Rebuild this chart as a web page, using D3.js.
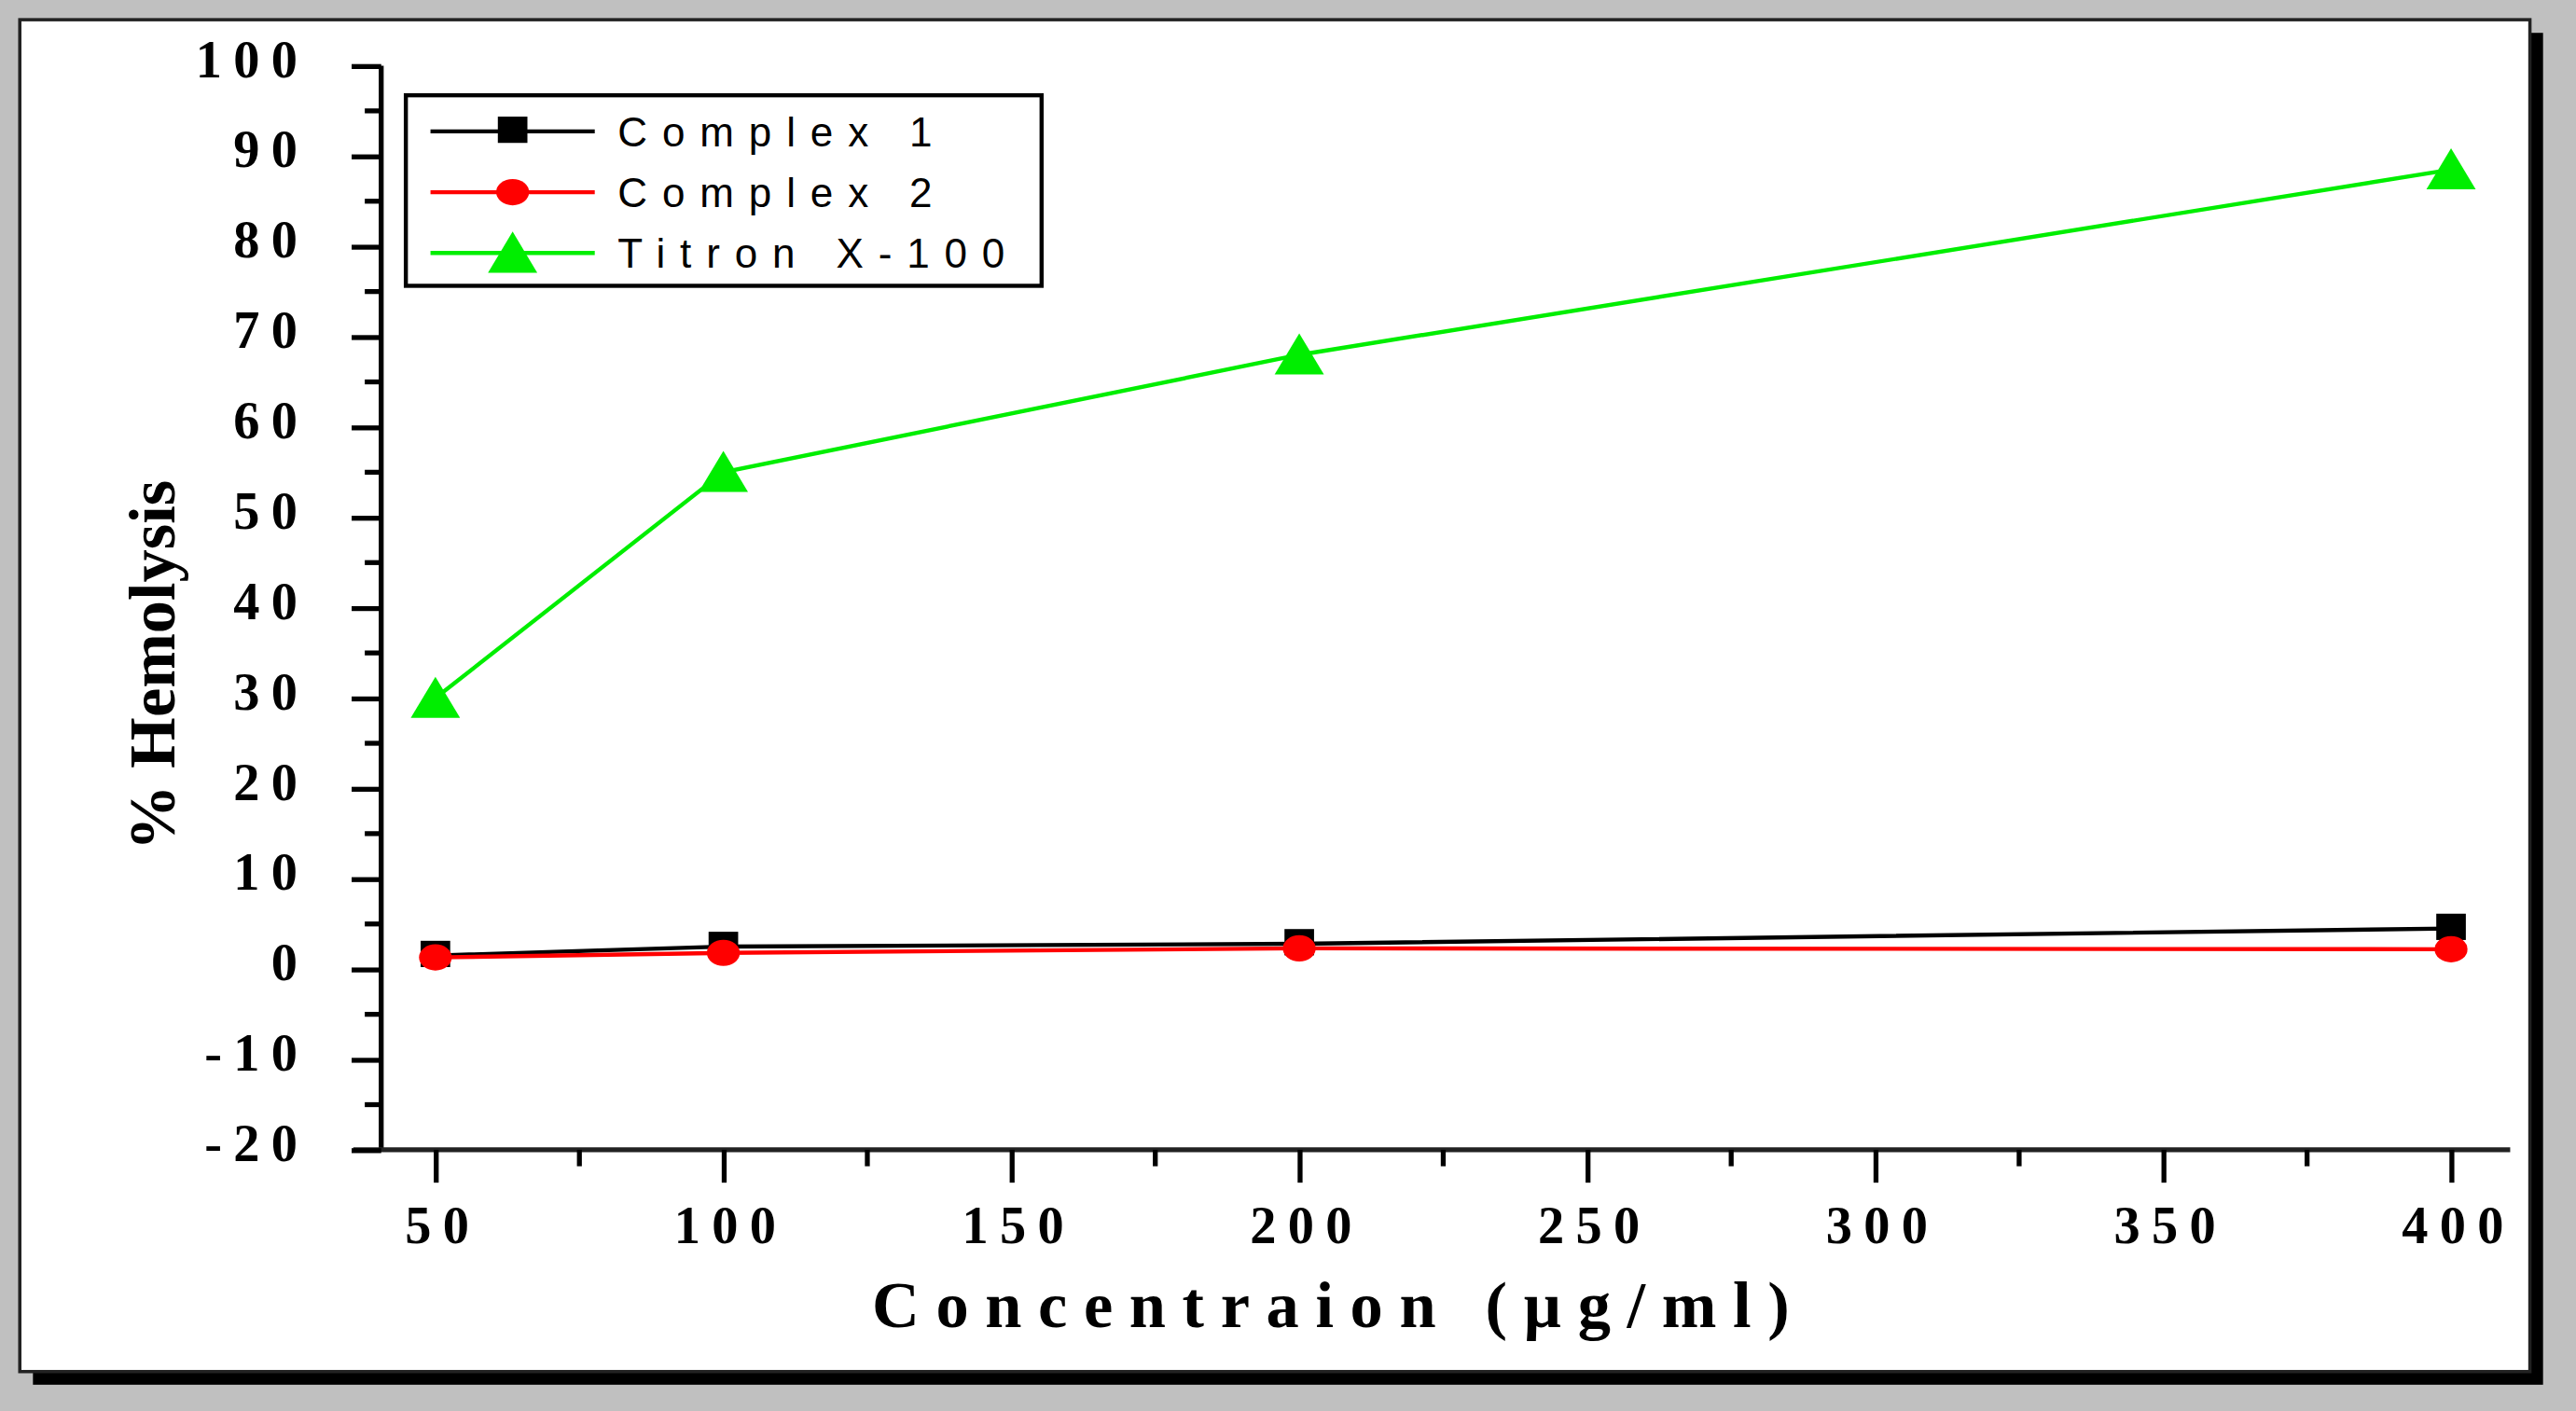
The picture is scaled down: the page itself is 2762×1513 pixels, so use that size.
<!DOCTYPE html>
<html>
<head>
<meta charset="utf-8">
<script src="https://cdn.jsdelivr.net/npm/d3@7"></script>
<style>
  body { margin: 0; background: #c0c0c0; }
  .tick text { font-family: "Liberation Serif", serif; font-weight: bold; font-size: 32px; letter-spacing: 7px; }
  .legend text { font-family: "Liberation Sans Narrow", "Liberation Sans", sans-serif; font-size: 25px; letter-spacing: 9px; }
</style>
</head>
<body>
<svg id="chart"></svg>
<script>
"use strict";
const concentrations = [50, 100, 200, 400];
const complex1 = [1.5, 2.5, 2.8, 4.5];
const complex2 = [1.3, 1.8, 2.3, 2.2];
const titron = [30, 55, 68, 88.5];
const seriesNames = ["Complex 1", "Complex 2", "Titron X-100"];
const seriesColors = ["#000000", "#ff0000", "#00ee00"];
const xTicks = [50, 100, 150, 200, 250, 300, 350, 400];
const yTicks = [-20, -10, 0, 10, 20, 30, 40, 50, 60, 70, 80, 90, 100];

const W = 1568, H = 859;
const svg = d3.select("#chart")
    .attr("width", 2762).attr("height", 1513)
    .attr("viewBox", `0 0 ${W} ${H}`);

// frame with shadow
svg.append("rect").attr("x", 0).attr("y", 0).attr("width", W).attr("height", H).attr("fill", "#c0c0c0");
svg.append("rect").attr("x", 20).attr("y", 20).attr("width", 1528).attr("height", 823).attr("fill", "#000");
svg.append("rect").attr("x", 12).attr("y", 12).attr("width", 1528).attr("height", 823)
    .attr("fill", "#fff").attr("stroke", "#222").attr("stroke-width", 2);

const xScale = d3.scaleLinear().domain([50, 400]).range([265, 1492]);
const yScale = d3.scaleLinear().domain([-20, 100]).range([700, 40]);
const x0 = 232, y0 = 700;

// axis lines
svg.append("line").attr("x1", x0).attr("x2", x0).attr("y1", yScale(100)).attr("y2", y0)
    .attr("stroke", "#000").attr("stroke-width", 3);
svg.append("line").attr("x1", 215).attr("x2", 1528).attr("y1", y0).attr("y2", y0)
    .attr("stroke", "#222").attr("stroke-width", 3);

// x axis
const xAxis = svg.append("g").attr("transform", `translate(0,${y0})`)
    .call(d3.axisBottom(xScale).tickValues(xTicks).tickSize(20).tickPadding(14));
xAxis.select(".domain").remove();
xAxis.selectAll(".tick line").attr("stroke-width", 3).attr("y1", 0);
xAxis.selectAll(".tick text").attr("dx", "4px");
svg.append("g").selectAll("line").data(d3.range(75, 400, 50)).join("line")
    .attr("x1", d => xScale(d)).attr("x2", d => xScale(d))
    .attr("y1", y0).attr("y2", y0 + 10).attr("stroke", "#000").attr("stroke-width", 3);

// y axis
const yAxis = svg.append("g").attr("transform", `translate(${x0},0)`)
    .call(d3.axisLeft(yScale).tickValues(yTicks).tickSize(18).tickPadding(26).tickFormat(d => String(d)));
yAxis.select(".domain").remove();
yAxis.selectAll(".tick line").attr("stroke-width", 3);
yAxis.selectAll(".tick text").attr("dy", "0.2em");
svg.append("g").selectAll("line").data(d3.range(-15, 100, 10)).join("line")
    .attr("x1", x0 - 10).attr("x2", x0)
    .attr("y1", d => yScale(d)).attr("y2", d => yScale(d)).attr("stroke", "#000").attr("stroke-width", 3);

// series
const allSeries = [complex1, complex2, titron];
const line = d3.line().x((d, i) => xScale(concentrations[i])).y(d => yScale(d));
allSeries.forEach((vals, k) => {
    svg.append("path").datum(vals).attr("d", line)
        .attr("fill", "none").attr("stroke", seriesColors[k]).attr("stroke-width", 2.5);
});

function marker(g, k, x, y) {
    if (k === 0) g.append("rect").attr("x", x - 9).attr("y", y - 9).attr("width", 18).attr("height", 16).attr("fill", "#000");
    else if (k === 1) g.append("ellipse").attr("cx", x).attr("cy", y).attr("rx", 10).attr("ry", 8).attr("fill", "#ff0000");
    else g.append("path").attr("d", `M${x},${y - 13}L${x + 15},${y + 12}L${x - 15},${y + 12}Z`).attr("fill", "#00ee00");
}
const markers = svg.append("g");
allSeries.forEach((vals, k) => {
    vals.forEach((v, i) => marker(markers, k, xScale(concentrations[i]), yScale(v)));
});

// legend
const legend = svg.append("g").attr("class", "legend");
legend.append("rect").attr("x", 247).attr("y", 58).attr("width", 387).attr("height", 116)
    .attr("fill", "#fff").attr("stroke", "#000").attr("stroke-width", 2.5);
seriesNames.forEach((name, k) => {
    const y = 80 + k * 37;
    legend.append("line").attr("x1", 262).attr("x2", 362).attr("y1", y).attr("y2", y)
        .attr("stroke", seriesColors[k]).attr("stroke-width", 2.5);
    marker(legend, k, 312, y);
    legend.append("text").attr("x", 376).attr("y", y + 9).text(name);
});

// axis titles
svg.append("text").attr("transform", "translate(106,405) rotate(-90)")
    .attr("text-anchor", "middle")
    .style("font-family", "Liberation Serif, serif").style("font-weight", "bold").style("font-size", "40px")
    .text("% Hemolysis");
svg.append("text").attr("x", 815).attr("y", 808).attr("text-anchor", "middle")
    .style("font-family", "Liberation Serif, serif").style("font-weight", "bold").style("font-size", "40px")
    .style("letter-spacing", "10px")
    .text("Concentraion (µg/ml)");
</script>
</body>
</html>
